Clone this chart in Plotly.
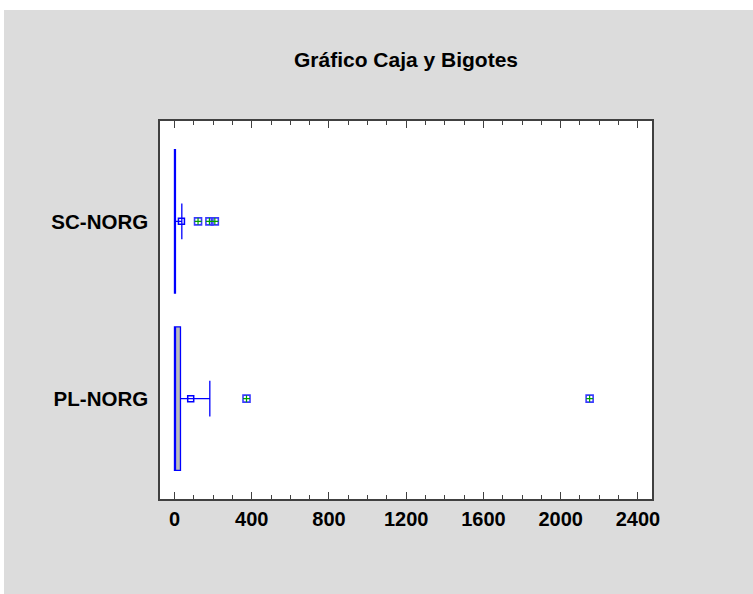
import plotly.graph_objects as go

# ---- data ----
categories = ["PL-NORG", "SC-NORG"]
q1_vals = [0, 0]
median_vals = [0, 1]
q3_vals = [31, 5]
lower_vals = [0, 0]
upper_vals = [183, 38]
mean_vals = [84, 36]
outlier_vals = [[373, 2150], [122, 181, 209]]

tick_vals = [0, 400, 800, 1200, 1600, 2000, 2400]
tick_text = ["0", "400", "800", "1200", "1600", "2000", "2400"]

BLUE = "#0000ff"
FONT = "Liberation Sans"

fig = go.Figure()

fig.add_trace(go.Box(
    y=categories,
    q1=q1_vals, median=median_vals, q3=q3_vals,
    lowerfence=lower_vals, upperfence=upper_vals,
    orientation="h",
    width=0.81,
    whiskerwidth=0.25,
    fillcolor="#bcbcbc",
    line=dict(color=BLUE, width=1.3),
    boxpoints=False,
    showlegend=False,
    hoverinfo="skip",
))

# mean markers
fig.add_trace(go.Scatter(
    x=mean_vals, y=categories, mode="markers",
    marker=dict(symbol="square-open", size=6, color=BLUE, line=dict(width=1.5, color=BLUE)),
    showlegend=False, hoverinfo="skip",
))

# outliers
ox, oy = [], []
for cat, vals in zip(categories, outlier_vals):
    for v in vals:
        ox.append(v)
        oy.append(cat)

fig.add_trace(go.Scatter(
    x=ox, y=oy, mode="markers",
    marker=dict(symbol="square-open", size=7, color="#3a3aff", line=dict(width=1.6, color="#3a3aff")),
    showlegend=False, hoverinfo="skip",
))
fig.add_trace(go.Scatter(
    x=ox, y=oy, mode="markers",
    marker=dict(symbol="cross-thin-open", size=5, color="#00a000", line=dict(width=1.2, color="#00a000")),
    showlegend=False, hoverinfo="skip",
))

W, H = 753, 594
L, R, T, B = 160, 101, 121, 95
plot_w = W - L - R
plot_h = H - T - B

# white outer strips (reference has a white border on top and left)
shapes = [
    dict(type="rect", xref="paper", yref="paper",
         x0=-2, x1=2, y0=(H - B - 10) / plot_h, y1=3,
         fillcolor="white", line=dict(width=0), layer="below"),
    dict(type="rect", xref="paper", yref="paper",
         x0=-2, x1=(4 - L) / plot_w, y0=-2, y1=3,
         fillcolor="white", line=dict(width=0), layer="below"),
]

fig.update_layout(
    width=W, height=H,
    margin=dict(l=L, r=R, t=T, b=B, pad=0),
    paper_bgcolor="#dcdcdc",
    plot_bgcolor="white",
    shapes=shapes,
    title=dict(
        text="Gráfico Caja y Bigotes",
        font=dict(family=FONT, size=21, color="black", weight="bold"),
        x=0.5, xref="paper", xanchor="center",
        y=1 - 60 / H, yref="container", yanchor="middle",
    ),
    xaxis=dict(
        range=[-75, 2473],
        tickmode="array", tickvals=tick_vals, ticktext=tick_text,
        ticks="inside", ticklen=7, tickwidth=1, tickcolor="#404040",
        minor=dict(dtick=100, tick0=0, ticks="inside", ticklen=4, tickwidth=1, tickcolor="#404040"),
        showline=True, linecolor="#404040", linewidth=1.5, mirror="ticks",
        showgrid=False, zeroline=False,
        tickfont=dict(family=FONT, size=20, color="black", weight="bold"),
        ticklabelstandoff=1,
    ),
    yaxis=dict(
        type="category",
        categoryorder="array", categoryarray=categories,
        range=[-0.566, 1.566],
        ticks="",
        showline=True, linecolor="#404040", linewidth=1.5, mirror=True,
        showgrid=False, zeroline=False,
        tickfont=dict(family=FONT, size=20.5, color="black", weight="bold"),
        ticklabelstandoff=6,
    ),
)

fig.write_html(
    "out.html",
    config={"displayModeBar": False},
    post_script="document.body.style.margin='0';document.body.style.overflow='hidden';",
)
